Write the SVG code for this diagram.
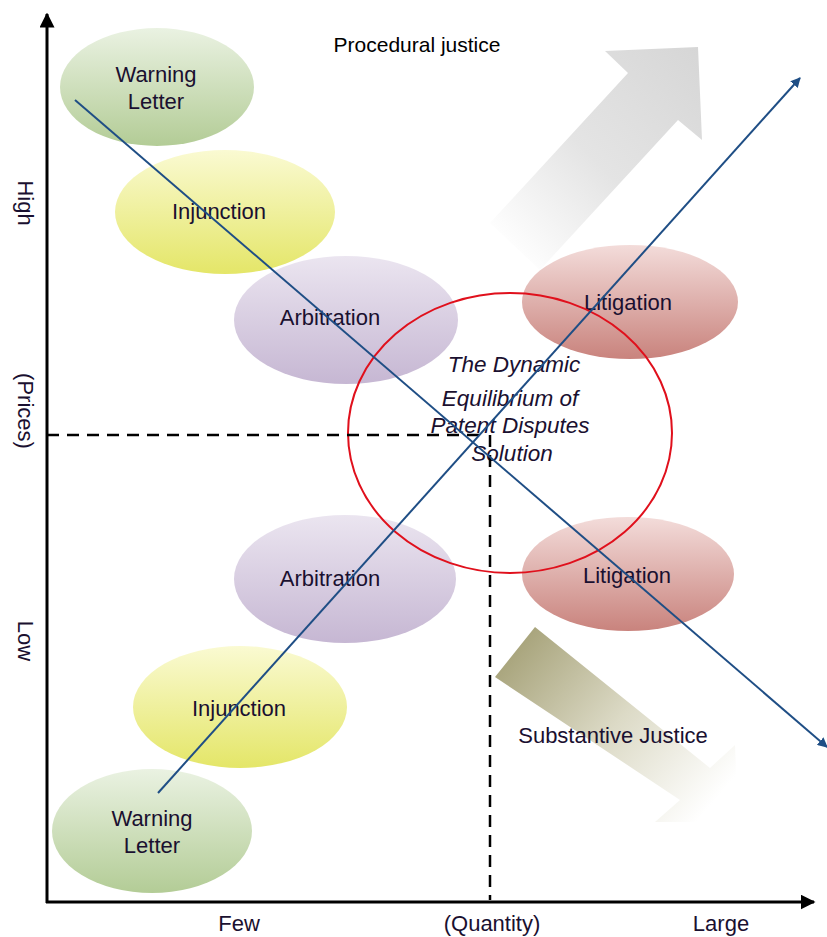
<svg xmlns="http://www.w3.org/2000/svg" width="827" height="937" viewBox="0 0 827 937">
<style>
text{font-family:"Liberation Sans",Arial,sans-serif;font-size:22px;fill:#1a1030;text-anchor:middle}
.it{font-style:italic;font-size:22.5px}
.ax{stroke:#000;stroke-width:3;fill:none}
.dash{stroke:#000;stroke-width:2.5;stroke-dasharray:12,8;fill:none}
.blue{stroke:#1f4e85;stroke-width:2;fill:none}
</style>
<defs>
<linearGradient id="gG" x1="0" y1="0" x2="0" y2="1"><stop offset="0" stop-color="#eaf2e2"/><stop offset="1" stop-color="#b3cc96"/></linearGradient>
<linearGradient id="gY" x1="0" y1="0" x2="0" y2="1"><stop offset="0" stop-color="#fafad2"/><stop offset="1" stop-color="#e4e668"/></linearGradient>
<linearGradient id="gP" x1="0" y1="0" x2="0" y2="1"><stop offset="0" stop-color="#ebe5f0"/><stop offset="1" stop-color="#c6b7d3"/></linearGradient>
<linearGradient id="gR" x1="0" y1="0" x2="0" y2="1"><stop offset="0" stop-color="#f3dcda"/><stop offset="1" stop-color="#c9837d"/></linearGradient>
<linearGradient id="gGray" x1="700" y1="47" x2="500" y2="245" gradientUnits="userSpaceOnUse"><stop offset="0" stop-color="#d6d6d6"/><stop offset="0.55" stop-color="#e4e4e4"/><stop offset="1" stop-color="#ffffff"/></linearGradient>
<linearGradient id="gOl" x1="515" y1="650" x2="705" y2="812" gradientUnits="userSpaceOnUse"><stop offset="0" stop-color="#a9a57d"/><stop offset="0.5" stop-color="#dcdac6"/><stop offset="1" stop-color="#ffffff"/></linearGradient>
<marker id="ah" viewBox="0 0 10 10" refX="9" refY="5" markerWidth="5" markerHeight="5" orient="auto"><path d="M0,0L10,5L0,10z" fill="#1f4e85"/></marker>
<marker id="ak" viewBox="0 0 10 10" refX="9" refY="5" markerWidth="5" markerHeight="5" orient="auto"><path d="M0,0L10,5L0,10z" fill="#000"/></marker>
</defs>
<rect width="827" height="937" fill="#fff"/>
<g id="procedural-arrow">
<path d="M490,223 L628,73 L605,51 L698,47 L702,140 L678,120 L540,270 Z" fill="url(#gGray)"/>
</g>
<g id="substantive-arrow">
<path d="M535,627 L710,768 L735,745 L738,822 L655,822 L680,800 L495,677 Z" fill="url(#gOl)"/>
</g>
<g id="warning-letter-high"><ellipse cx="157" cy="87" rx="97" ry="59" fill="url(#gG)"/><text x="156" y="82">Warning</text><text x="156" y="109">Letter</text></g>
<g id="injunction-high"><ellipse cx="225" cy="212" rx="110" ry="62" fill="url(#gY)"/><text x="219" y="219">Injunction</text></g>
<g id="arbitration-high"><ellipse cx="346" cy="320" rx="112" ry="64" fill="url(#gP)"/><text x="330" y="325">Arbitration</text></g>
<g id="litigation-high"><ellipse cx="630" cy="302" rx="108" ry="57" fill="url(#gR)"/><text x="628" y="310">Litigation</text></g>
<g id="arbitration-low"><ellipse cx="345" cy="579" rx="111" ry="64" fill="url(#gP)"/><text x="330" y="586">Arbitration</text></g>
<g id="litigation-low"><ellipse cx="628" cy="574" rx="106" ry="57" fill="url(#gR)"/><text x="627" y="583">Litigation</text></g>
<g id="injunction-low"><ellipse cx="240" cy="707" rx="107" ry="61" fill="url(#gY)"/><text x="239" y="716">Injunction</text></g>
<g id="warning-letter-low"><ellipse cx="152" cy="831" rx="100" ry="62" fill="url(#gG)"/><text x="152" y="826">Warning</text><text x="152" y="853">Letter</text></g>
<g id="equilibrium"><ellipse cx="510" cy="433" rx="162" ry="140" fill="none" stroke="#e0101c" stroke-width="2"/>
<text class="it" x="514" y="372">The Dynamic</text><text class="it" x="510" y="406">Equilibrium of</text><text class="it" x="510" y="433">Patent Disputes</text><text class="it" x="512" y="461">Solution</text></g>
<g id="connectors">
<path class="dash" d="M47,435 H487 M490,435 V900"/>
<path class="blue" d="M75,100 L827,747" marker-end="url(#ah)"/>
<path class="blue" d="M158,793 L800,78" marker-end="url(#ah)"/>
<path class="ax" d="M47,903 V14" marker-end="url(#ak)"/>
<path class="ax" d="M46,902 H814" marker-end="url(#ak)"/>
</g>
<g id="labels">
<text x="417" y="52" style="font-size:21px;fill:#000">Procedural justice</text>
<text x="613" y="743">Substantive Justice</text>
<text x="239" y="931">Few</text>
<text x="492" y="931">(Quantity)</text>
<text x="721" y="931">Large</text>
<text transform="translate(18,203) rotate(90)">High</text>
<text transform="translate(18,411) rotate(90)">(Prices)</text>
<text transform="translate(18,641) rotate(90)">Low</text>
</g>
</svg>
